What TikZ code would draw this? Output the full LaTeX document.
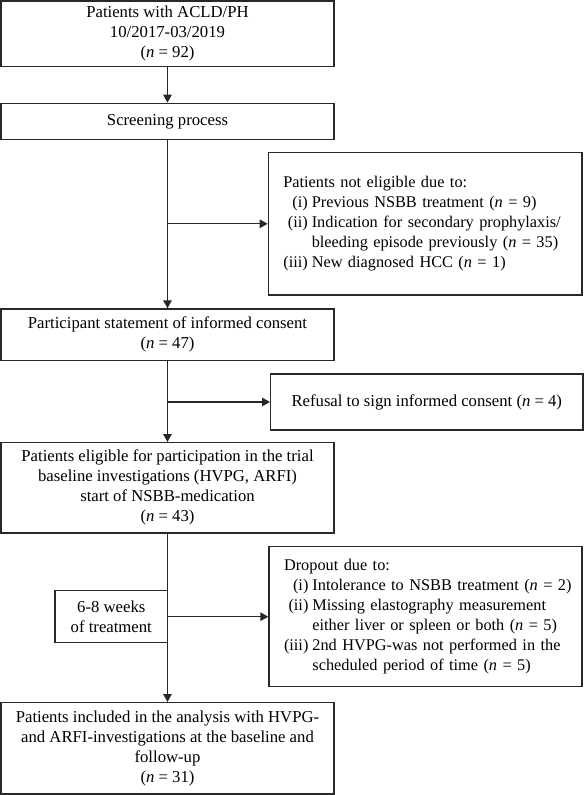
\documentclass[tikz,border=0pt]{standalone}
\usepackage{fontspec}
\setmainfont{Liberation Serif}
\usetikzlibrary{arrows.meta}
\definecolor{linec}{RGB}{40,40,40}
\newcommand{\fsz}{\fontsize{16.7}{20}\selectfont}
\newcommand{\fszl}{\fontsize{16.3}{20}\selectfont}
\begin{document}
\begin{tikzpicture}[x=1pt,y=-1pt,
  box/.style={draw=linec,line width=1.3pt,inner sep=0pt,align=center,font=\fsz,text=black},
  sz/.style 2 args={minimum width=#1,minimum height=#2},
  listbox/.style={box,inner xsep=15pt,align=left,font=\fszl},
  arr/.style={draw=linec,line width=1.3pt,-{Triangle[length=8pt,width=8.5pt]}},
  conn/.style={draw=linec,line width=1.3pt}]
\useasboundingbox (0,0) rectangle (584,795);
\node[box,sz={333pt}{65.7pt}] (B1) at (167.5,33.8) {Patients with ACLD/PH\\10/2017-03/2019\\(\textit{n} = 92)};
\node[box,sz={333pt}{36pt}] (B2) at (167.5,121.3) {Screening process};
\node[listbox,sz={313.7pt}{142.3pt},text width=283.7pt] (NE) at (425.2,223.8) {%
\begin{tabular}{@{}r@{\hspace{4pt}}l@{}}
\multicolumn{2}{@{}l@{}}{Patients not eligible due to:}\\
(i) & Previous NSBB treatment (\textit{n} = 9)\\
(ii) & Indication for secondary prophylaxis/\\
 & bleeding episode previously (\textit{n} = 35)\\
(iii) & New diagnosed HCC (\textit{n} = 1)
\end{tabular}};
\node[box,sz={333pt}{51.7pt}] (B3) at (167.5,334.8) {Participant statement of informed consent\\(\textit{n} = 47)};
\node[box,sz={312.3pt}{56pt}] (RF) at (426.8,402) {Refusal to sign informed consent (\textit{n} = 4)};
\node[box,sz={333pt}{90.3pt}] (B4) at (167.5,487.8) {Patients eligible for participation in the trial\\baseline investigations (HVPG, ARFI)\\start of NSBB-medication\\(\textit{n} = 43)};
\node[box,sz={112.7pt}{52pt}] (W) at (111.3,616.7) {6-8 weeks\\of treatment};
\node[listbox,sz={313pt}{140pt},text width=283pt] (DO) at (425.5,616.7) {%
\begin{tabular}{@{}r@{\hspace{4pt}}l@{}}
\multicolumn{2}{@{}l@{}}{Dropout due to:}\\
(i) & Intolerance to NSBB treatment (\textit{n} = 2)\\
(ii) & Missing elastography measurement\\
 & either liver or spleen or both (\textit{n} = 5)\\
(iii) & 2nd HVPG-was not performed in the\\
 & scheduled period of time (\textit{n} = 5)
\end{tabular}};
\node[box,sz={333pt}{91.3pt}] (B5) at (167.5,748.3) {Patients included in the analysis with HVPG-\\and ARFI-investigations at the baseline and\\follow-up\\(\textit{n} = 31)};
\draw[arr] (B1) -- (B2);
\draw[arr] (B2) -- (B3);
\coordinate (j1) at (B2.south |- NE.west);
\draw[arr] (j1) -- (NE.west);
\draw[arr] (B3) -- (B4);
\coordinate (j2) at (B3.south |- RF.west);
\draw[arr] (j2) -- (RF.west);
\draw[arr] (B4) -- (B5);
\draw[arr] (W.east) -- (DO.west);
\end{tikzpicture}
\end{document}
